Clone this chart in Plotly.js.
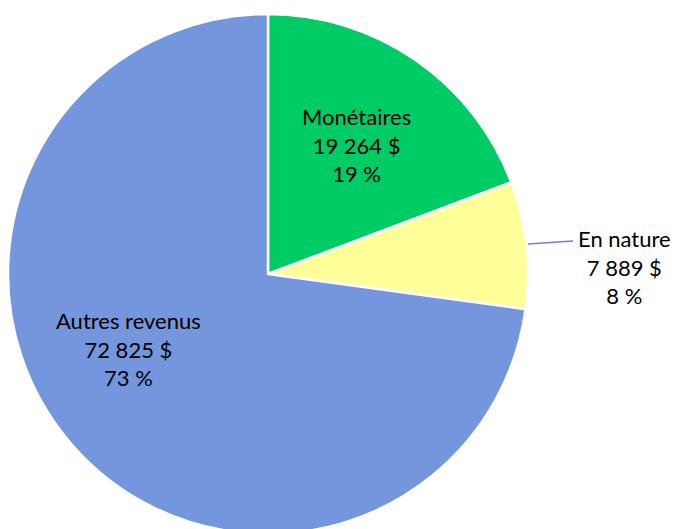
<!DOCTYPE html>
<html>
<head>
<meta charset="utf-8">
<script src="https://cdn.plot.ly/plotly-3.0.1.min.js"></script>
<style>html,body{margin:0;padding:0;background:#fff;overflow:hidden}#wrap{width:674px;height:529px;overflow:hidden}</style>
</head>
<body>
<div id="wrap"><div id="chart"></div></div>
<script>
const categories = ["Monétaires", "En nature", "Autres revenus"];
const amounts = [19264, 7889, 72825];
const amountLabels = ["19 264 $", "7 889 $", "72 825 $"];
const percentLabels = ["19 %", "8 %", "73 %"];
const colors = ["#00CC66", "#FFFF99", "#7396DC"];

const W = 674, H = 540;
const labelPos = [[356, 145], [624, 267], [128, 349]];

const annotations = categories.map((c, i) => ({
  xref: "paper", yref: "paper",
  x: labelPos[i][0] / W, y: 1 - labelPos[i][1] / H,
  xanchor: "center", yanchor: "middle",
  text: c + "<br>" + amountLabels[i] + "<br>" + percentLabels[i],
  showarrow: false,
  font: {family: "Lato, 'Open Sans', sans-serif", size: 22, color: "#000"}
}));

const data = [{
  type: "pie",
  labels: categories,
  values: amounts,
  sort: false,
  direction: "clockwise",
  rotation: 0,
  textinfo: "none",
  hoverinfo: "label+value+percent",
  marker: {colors: colors, line: {color: "#ffffff", width: 2.5}},
  domain: {x: [8 / W, 528 / W], y: [(H - 534) / H, (H - 14) / H]},
  showlegend: false
}];

const layout = {
  width: W, height: H,
  margin: {l: 0, r: 0, t: 0, b: 0},
  paper_bgcolor: "#ffffff",
  showlegend: false,
  annotations: annotations,
  shapes: [{
    type: "line", xref: "paper", yref: "paper",
    x0: 528 / W, y0: 1 - 244 / H, x1: 573 / W, y1: 1 - 241 / H,
    line: {color: "#6F7FE0", width: 1.5}
  }]
};

Plotly.newPlot("chart", data, layout, {staticPlot: true});
</script>
</body>
</html>
